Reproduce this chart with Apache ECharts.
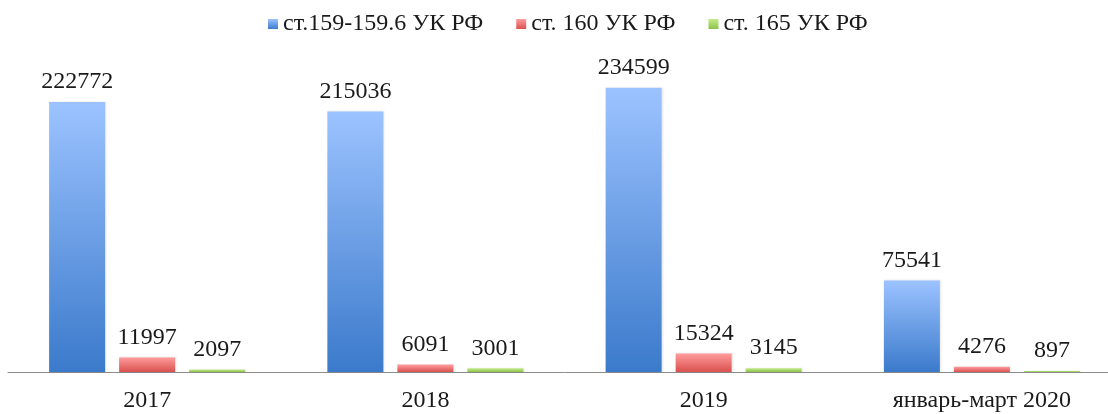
<!DOCTYPE html>
<html>
<head>
<meta charset="utf-8">
<script src="https://cdn.jsdelivr.net/npm/echarts@6/dist/echarts.min.js"></script>
<style>
  html, body { margin: 0; padding: 0; background: #fff; overflow: hidden; }
  /* ось в оригинале уходит за правый край картинки */
  #chart { width: 1121px; height: 414px; }
</style>
</head>
<body>
<div id="chart"></div>
<script>
// категории и значения
const categories = ['2017', '2018', '2019', 'январь-март 2020'];
const seriesNames = ['ст.159-159.6 УК РФ', 'ст. 160 УК РФ', 'ст. 165 УК РФ'];
const art159 = [222772, 215036, 234599, 75541];
const art160 = [11997, 6091, 15324, 4276];
const art165 = [2097, 3001, 3145, 897];

const chart = echarts.init(document.getElementById('chart'));

// градиент для столбцов (сверху светлее)
let grad = function (top, bottom) {
  return new echarts.graphic.LinearGradient(0, 0, 0, 1, [
    { offset: 0, color: top },
    { offset: 1, color: bottom }
  ]);
};

const fontFamily = '"Liberation Serif", "Times New Roman", serif';

let makeSeries = function (name, data, top, bottom) {
  return {
    name: name,
    type: 'bar',
    data: data,
    barWidth: 56,
    barGap: '25%',
    itemStyle: {
      color: grad(top, bottom),
      shadowColor: 'rgba(0,0,0,0.1)',
      shadowBlur: 2,
      shadowOffsetX: 1
    },
    label: {
      show: true,
      position: 'top',
      distance: 8,
      color: '#1a1a1a',
      fontFamily: fontFamily,
      fontSize: 24
    }
  };
};

const option = {
  animation: false,
  textStyle: { fontFamily: fontFamily },
  legend: {
    data: seriesNames,
    top: 7,
    left: 263,
    itemWidth: 10,
    itemHeight: 10,
    itemGap: 33,
    icon: 'rect',
    textStyle: { color: '#1a1a1a', fontSize: 24, fontFamily: fontFamily }
  },
  grid: {
    left: 8,
    top: 69,
    right: 0,
    bottom: 42,
    containLabel: false
  },
  xAxis: {
    type: 'category',
    data: categories,
    axisLine: { lineStyle: { color: '#8c8c8c', width: 1 } },
    axisTick: { show: false },
    axisLabel: {
      color: '#1a1a1a',
      fontSize: 24,
      fontFamily: fontFamily,
      margin: 17
    }
  },
  yAxis: {
    type: 'value',
    min: 0,
    max: 250000,
    show: false,
    splitLine: { show: false }
  },
  series: [
    makeSeries(seriesNames[0], art159, '#9cc3ff', '#3b7acb'),
    makeSeries(seriesNames[1], art160, '#ff9c9c', '#d9514f'),
    makeSeries(seriesNames[2], art165, '#c4eb8c', '#8cc24a')
  ]
};

chart.setOption(option);
</script>
</body>
</html>
